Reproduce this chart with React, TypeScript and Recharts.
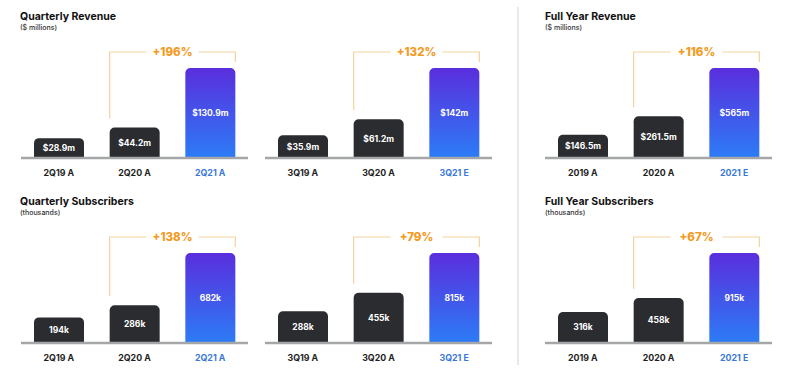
import React from 'react';
import { BarChart, Bar, XAxis, YAxis, Cell, LabelList } from 'recharts';

// ---- data ----
const qRevCats = ['2Q19 A', '2Q20 A', '2Q21 A'];
const qRevVals = [28.9, 44.2, 130.9];
const qRevGrowth = '+196%';

const q3RevCats = ['3Q19 A', '3Q20 A', '3Q21 E'];
const q3RevVals = [35.9, 61.2, 142];
const q3RevGrowth = '+132%';

const fyRevCats = ['2019 A', '2020 A', '2021 E'];
const fyRevVals = [146.5, 261.5, 565];
const fyRevGrowth = '+116%';

const qSubCats = ['2Q19 A', '2Q20 A', '2Q21 A'];
const qSubVals = [194, 286, 682];
const qSubGrowth = '+138%';

const q3SubCats = ['3Q19 A', '3Q20 A', '3Q21 E'];
const q3SubVals = [288, 455, 815];
const q3SubGrowth = '+79%';

const fySubCats = ['2019 A', '2020 A', '2021 E'];
const fySubVals = [316, 458, 915];
const fySubGrowth = '+67%';

const titles = [
  { text: 'Quarterly Revenue', sub: '($ millions)', col: 0, row: 0 },
  { text: 'Full Year Revenue', sub: '($ millions)', col: 2, row: 0 },
  { text: 'Quarterly Subscribers', sub: '(thousands)', col: 0, row: 1 },
  { text: 'Full Year Subscribers', sub: '(thousands)', col: 2, row: 1 },
];

// ---- layout ----
const FONT = 'Inter, "Open Sans", sans-serif';
const COL_X = [21, 265, 545];
const TITLE_X = [20, 265, 545];
const ROW_Y = [0, 185];
const CW = 227;
const CH = 185;
const BAND = CW / 3;
const DARK = '#2b2c30';
const BLUE_TXT = '#3a78da';
const BRACKET = '#f3d3a0';
const ORANGE = '#f39a22';

type PanelProps = {
  id: string;
  cats: string[];
  vals: number[];
  growth: string;
  fmt: (v: number) => string;
  left: number;
  top: number;
};

function Panel({ id, cats, vals, growth, fmt, left, top }: PanelProps) {
  const data = cats.map((c, i) => ({ cat: c, value: vals[i] }));

  const renderTick = (p: any) => {
    const idx = cats.indexOf(p.payload.value);
    return (
      <text
        x={p.x}
        y={p.y + 18}
        textAnchor="middle"
        fontFamily={FONT}
        fontWeight={700}
        fontSize={8.8}
        fill={idx === 2 ? BLUE_TXT : '#1e1e1e'}
      >
        {p.payload.value}
      </text>
    );
  };

  const renderBracket = (p: any) => {
    if (p.index !== 2) return null;
    const vb = p.viewBox || p;
    const x3 = vb.x;
    const y3 = vb.y;
    const w = vb.width;
    const h = vb.height;
    const base = y3 + h;
    const x2 = x3 - BAND;
    const y2 = base - (h * vals[1]) / vals[2];
    const by = y3 - 16;
    const right = x3 + w;
    const cx = (x2 + right) / 2;
    const gap = 26;
    return (
      <g>
        <polyline
          points={`${x2},${y2 - 9} ${x2},${by} ${cx - gap},${by}`}
          fill="none"
          stroke={BRACKET}
          strokeWidth={1.2}
        />
        <polyline
          points={`${cx + gap},${by} ${right},${by} ${right},${y3 - 6}`}
          fill="none"
          stroke={BRACKET}
          strokeWidth={1.2}
        />
        <text
          x={cx}
          y={by + 4.2}
          textAnchor="middle"
          fontFamily={FONT}
          fontWeight={800}
          fontSize={11.5}
          fill={ORANGE}
        >
          {growth}
        </text>
      </g>
    );
  };

  return (
    <div style={{ position: 'absolute', left, top, width: CW, height: CH }}>
      <BarChart
        width={CW}
        height={CH}
        data={data}
        margin={{ top: 68, right: 0, left: 0, bottom: 0 }}
        barCategoryGap={0}
      >
        <defs>
          <linearGradient id={`grad-${id}`} x1="0" y1="0" x2="0" y2="1">
            <stop offset="0%" stopColor="#5a2edd" />
            <stop offset="100%" stopColor="#2c7cf6" />
          </linearGradient>
        </defs>
        <YAxis hide domain={[0, 'dataMax']} />
        <XAxis
          dataKey="cat"
          height={27}
          tickLine={false}
          tickSize={0}
          tickMargin={0}
          axisLine={{ stroke: '#a4a6a8', strokeWidth: 2.5 }}
          tick={renderTick}
          interval={0}
        />
        <Bar dataKey="value" barSize={50} radius={[5, 5, 0, 0]} isAnimationActive={false}>
          {data.map((d, i) => (
            <Cell key={d.cat} fill={i === 2 ? `url(#grad-${id})` : DARK} />
          ))}
          <LabelList
            dataKey="value"
            position="center"
            formatter={(v: any) => fmt(Number(v))}
            fill="#ffffff"
            fontFamily={FONT}
            fontWeight={700}
            fontSize={8.5}
          />
          <LabelList dataKey="value" content={renderBracket} />
        </Bar>
      </BarChart>
    </div>
  );
}

const money = (v: number) => `$${v}m`;
const thous = (v: number) => `${v}k`;

export default function App() {
  return (
    <div
      style={{
        position: 'absolute',
        left: 0,
        top: 0,
        width: 789,
        height: 370,
        background: '#ffffff',
        overflow: 'hidden',
      }}
    >
      <svg width={789} height={370} style={{ position: 'absolute', left: 0, top: 0 }}>
        <line x1={518} y1={7} x2={518} y2={365} stroke="#e8e8e8" strokeWidth={2} />
        {titles.map((t) => (
          <g key={t.text}>
            <text
              x={TITLE_X[t.col]}
              y={ROW_Y[t.row] + 19.5}
              fontFamily={FONT}
              fontWeight={700}
              fontSize={10.5}
              fill="#111"
            >
              {t.text}
            </text>
            <text
              x={TITLE_X[t.col]}
              y={ROW_Y[t.row] + 29.5}
              fontFamily={FONT}
              fontWeight={500}
              fontSize={7}
              fill="#333"
            >
              {t.sub}
            </text>
          </g>
        ))}
      </svg>
      <Panel id="p1" cats={qRevCats} vals={qRevVals} growth={qRevGrowth} fmt={money} left={COL_X[0]} top={ROW_Y[0]} />
      <Panel id="p2" cats={q3RevCats} vals={q3RevVals} growth={q3RevGrowth} fmt={money} left={COL_X[1]} top={ROW_Y[0]} />
      <Panel id="p3" cats={fyRevCats} vals={fyRevVals} growth={fyRevGrowth} fmt={money} left={COL_X[2]} top={ROW_Y[0]} />
      <Panel id="p4" cats={qSubCats} vals={qSubVals} growth={qSubGrowth} fmt={thous} left={COL_X[0]} top={ROW_Y[1]} />
      <Panel id="p5" cats={q3SubCats} vals={q3SubVals} growth={q3SubGrowth} fmt={thous} left={COL_X[1]} top={ROW_Y[1]} />
      <Panel id="p6" cats={fySubCats} vals={fySubVals} growth={fySubGrowth} fmt={thous} left={COL_X[2]} top={ROW_Y[1]} />
    </div>
  );
}
